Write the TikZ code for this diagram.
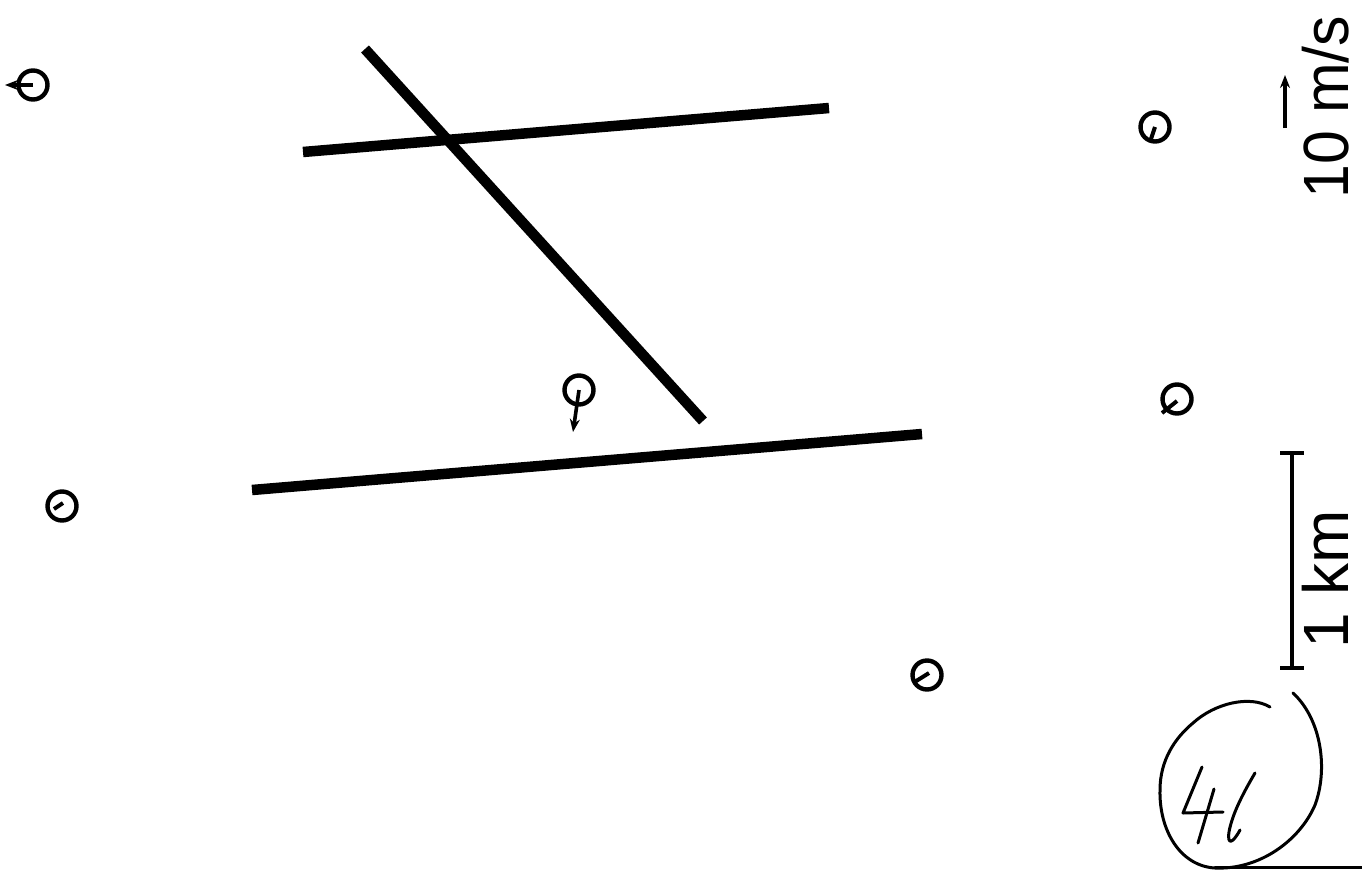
\documentclass[tikz,border=0pt]{standalone}
\usepackage{fontspec}
\setmainfont{Liberation Sans}
\usetikzlibrary{arrows.meta}
\begin{document}
\begin{tikzpicture}[x=1pt,y=-1pt,
  front/.style={line width=10.5pt,line cap=butt},
  station/.style={circle,draw,line width=4.4pt,minimum size=29pt,inner sep=0pt},
  wind/.style={line width=3.6pt,-{Stealth[length=13pt,width=10pt]}},
  calm/.style={line width=4pt},
  lbl/.style={font=\fontsize{64}{68}\selectfont,rotate=90,anchor=base,inner sep=0pt},
  hand/.style={line width=3pt,line cap=round,line join=round}]
\useasboundingbox (0,0) rectangle (1362,870);
% fronts
\coordinate (a1) at (303,152); \coordinate (a2) at (829,108);
\coordinate (b1) at (365,49);  \coordinate (b2) at (703,421);
\coordinate (c1) at (252,490); \coordinate (c2) at (922,434);
\draw[front] (a1) -- (a2);
\draw[front] (b1) -- (b2);
\draw[front] (c1) -- (c2);
% stations
\node[station] (s1) at (33,85) {};
\coordinate (w1) at (5,85);
\draw[wind] (s1.center) -- (w1);
\node[station] (s2) at (1155,127) {};
\coordinate (w2) at (1150,142);
\draw[calm] (s2.center) -- (w2);
\node[station] (s4) at (579,390) {};
\coordinate (w4) at (573,432);
\draw[wind] (s4.center) -- (w4);
\node[station] (s5) at (1177,399) {};
\coordinate (w5a) at (1177,401); \coordinate (w5) at (1162,413);
\draw[calm] (w5a) -- (w5);
\node[station] (s6) at (62,506) {};
\coordinate (w6a) at (63,503); \coordinate (w6) at (54,509);
\draw[calm] (w6a) -- (w6);
\node[station] (s7) at (927,675) {};
\coordinate (w7a) at (929,673); \coordinate (w7) at (913,683);
\draw[calm] (w7a) -- (w7);
% velocity scale
\coordinate (v1) at (1285,128); \coordinate (v2) at (1285,75);
\draw[wind] (v1) -- (v2);
\node[lbl] (vl) at (1348,107) {\scalebox{0.95}[1]{10 m/s}};
% distance scale
\coordinate (k1) at (1292,453); \coordinate (k2) at (1292,668);
\draw[line width=3.4pt] (k1) -- (k2);
\draw[line width=3.4pt] (1280,453) -- (1304,453);
\draw[line width=3.4pt] (1280,668) -- (1304,668);
\node[lbl] (kl) at (1348,579) {\scalebox{1.0}[1]{1 km}};
% handwritten 41
\draw[hand] (1270,707) .. controls (1250,695) and (1215,703) .. (1193,723)
  .. controls (1175,738) and (1160,760) .. (1160,790)
  .. controls (1159,830) and (1180,866) .. (1215,868)
  .. controls (1260,870) and (1300,840) .. (1315,805)
  .. controls (1328,770) and (1322,720) .. (1293,693);
\draw[hand] (1215,867) -- (1362,867);
\draw[hand] (1202,767) -- (1183,813) -- (1223,812);
\draw[hand] (1214,789) -- (1198,843);
\draw[hand] (1255,773) .. controls (1242,795) and (1232,815) .. (1229,832)
  .. controls (1227,846) and (1233,843) .. (1240,830);
\end{tikzpicture}
\end{document}
